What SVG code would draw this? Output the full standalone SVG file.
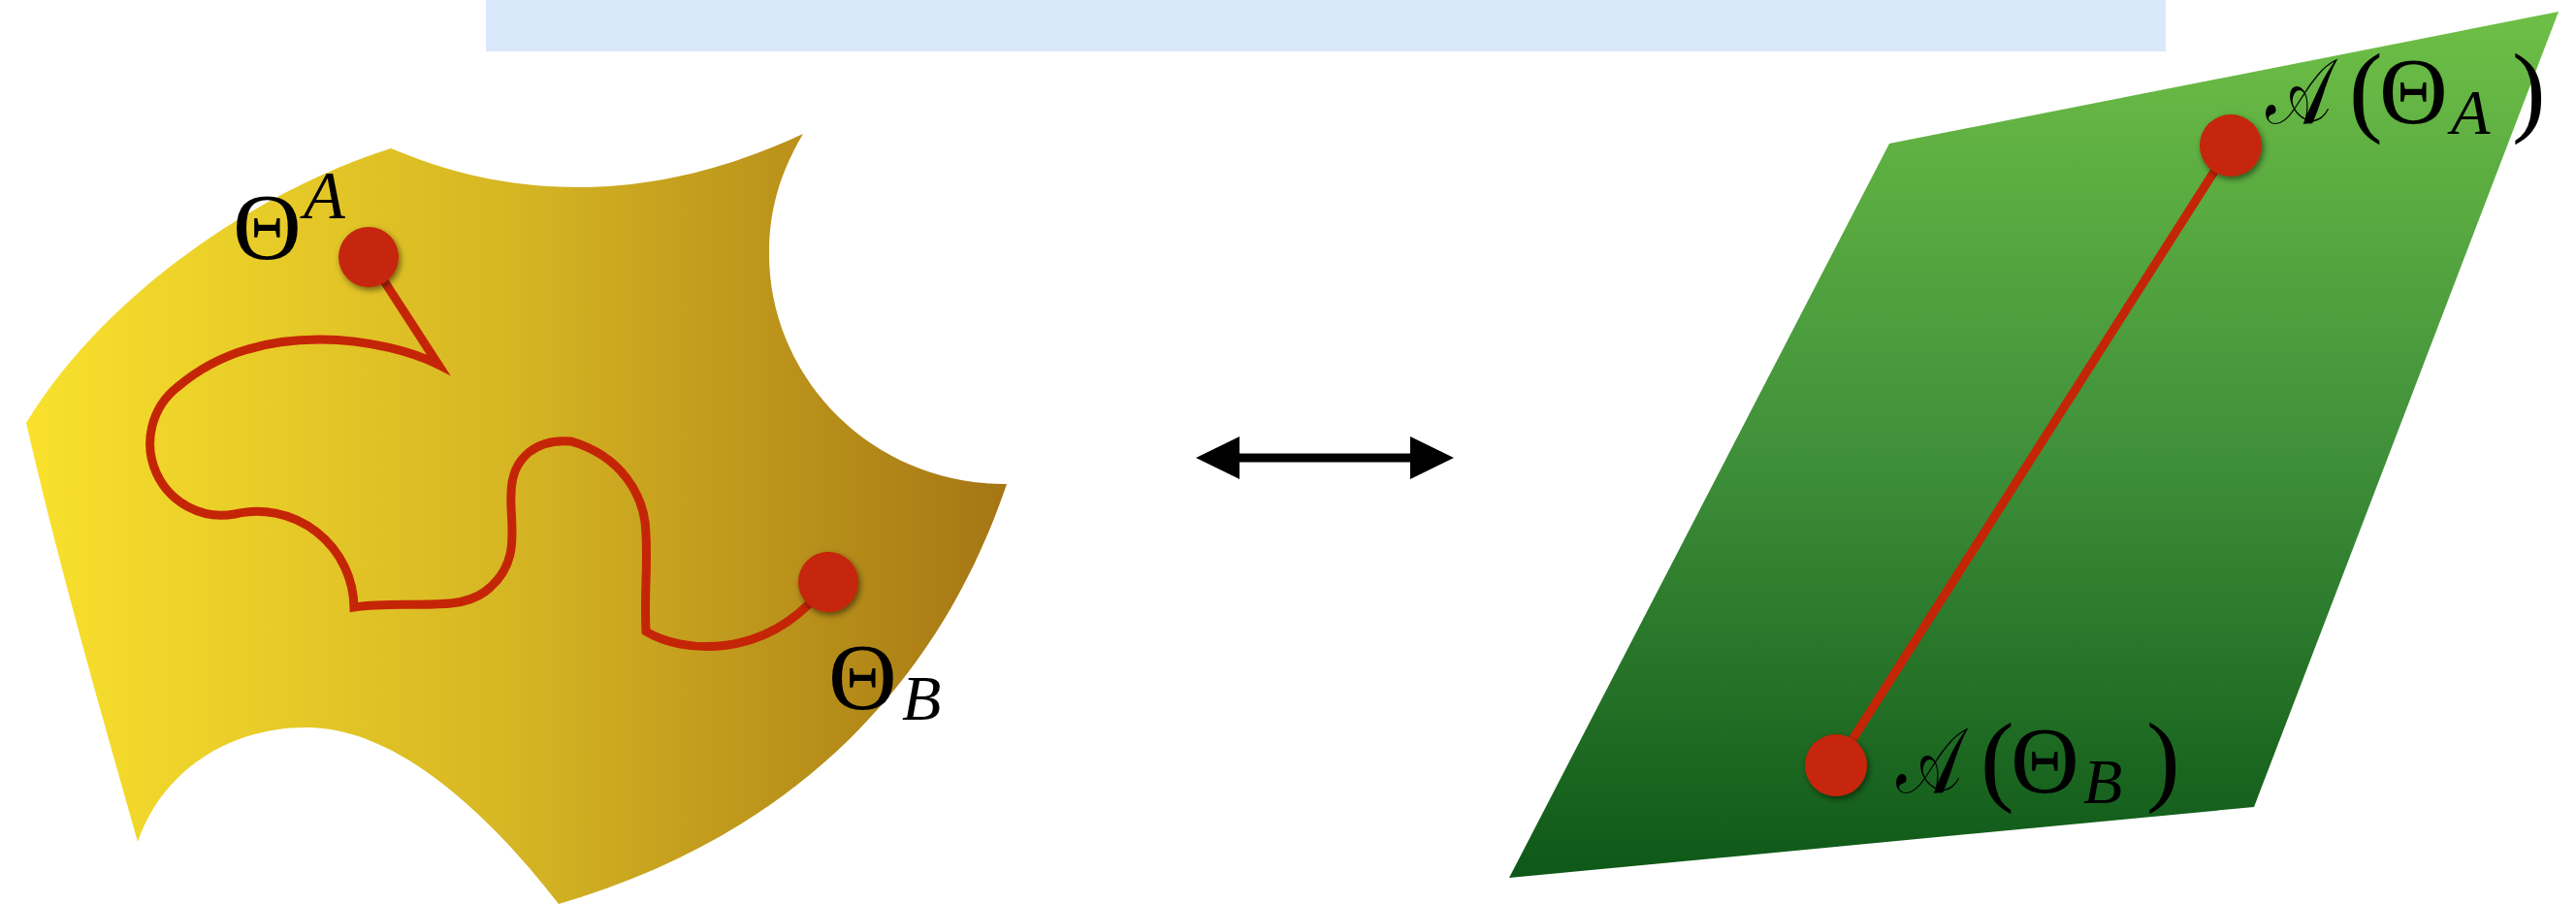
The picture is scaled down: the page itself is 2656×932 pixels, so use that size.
<svg xmlns="http://www.w3.org/2000/svg" width="2656" height="932" viewBox="0 0 2656 932">
<style>
.lbl{font-family:"Liberation Serif","DejaVu Serif",serif;fill:#000}
.it{font-style:italic}
.red{fill:none;stroke:#C52507;stroke-width:9;stroke-linejoin:miter}
.dot{fill:#C52507;filter:url(#sh)}
</style>
<defs>
<linearGradient id="gy" gradientUnits="userSpaceOnUse" x1="27" y1="0" x2="1040" y2="0">
<stop offset="0" stop-color="#F9E12D"/>
<stop offset="0.5" stop-color="#D5B523"/>
<stop offset="1" stop-color="#A57614"/>
</linearGradient>
<linearGradient id="gg" gradientUnits="userSpaceOnUse" x1="0" y1="12" x2="0" y2="905">
<stop offset="0" stop-color="#6EBF46"/>
<stop offset="0.5" stop-color="#40913A"/>
<stop offset="1" stop-color="#0E5818"/>
</linearGradient>
<filter id="sh" x="-50%" y="-50%" width="200%" height="200%">
<feDropShadow dx="2" dy="3" stdDeviation="3" flood-color="#000" flood-opacity="0.5"/>
</filter>
<marker id="ah" viewBox="0 0 45 44" refX="0" refY="22" markerWidth="45" markerHeight="44" markerUnits="userSpaceOnUse" orient="auto-start-reverse">
<path d="M0,0 L45,22 L0,44 Z" fill="#000"/>
</marker>
</defs>
<rect id="banner" x="501" y="0" width="1732" height="53" fill="#DAE8FC"/>
<g id="manifold">
<path d="M403,153 C480,185 540,193 596,193 C680,193 760,170 828,138 C800,185 793,225 793,262 C793,390 900,500 1038,499 C960,730 790,870 576,932 C520,860 420,750 316,750 C230,750 165,800 142,868 C100,720 60,580 27,436 C110,300 270,195 403,153 Z" fill="url(#gy)"/>
</g>
<g id="plane">
<path d="M1948,148 L2638,12 L2324,832 L1556,905 Z" fill="url(#gg)"/>
</g>
<g id="connectors">
<path class="red" d="M380,265 L452,376 C400,350 270,325 183,399 A74,74 0 0 0 242,530 A100,100 0 0 1 365,626 C420,618 470,632 500,610 C540,580 525,540 527,510 C527,470 555,452 589,455 C640,470 665,510 666,550 C668,590 664,610 666,651 C700,672 790,685 854,600"/>
<line class="red" x1="2300" y1="150" x2="1893" y2="789"/>
<line x1="1278" y1="472" x2="1454" y2="472" stroke="#000" stroke-width="9" marker-start="url(#ah)" marker-end="url(#ah)"/>
</g>
<g id="dot-theta-a"><circle class="dot" cx="380" cy="265" r="31"/></g>
<g id="dot-theta-b"><circle class="dot" cx="854" cy="600" r="31"/></g>
<g id="dot-a-theta-a"><circle class="dot" cx="2300" cy="150" r="32"/></g>
<g id="dot-a-theta-b"><circle class="dot" cx="1893" cy="789" r="32"/></g>
<g id="label-theta-a" class="lbl">
<text x="240" y="267" font-size="98">Θ<tspan class="it" x="313" y="225" font-size="70">A</tspan></text>
</g>
<g id="label-theta-b" class="lbl">
<text x="854" y="731" font-size="98">Θ<tspan class="it" x="930" y="742" font-size="66">B</tspan></text>
</g>
<g id="label-a-theta-a" class="lbl">
<text x="2336" y="127" font-size="94" textLength="68" lengthAdjust="spacingAndGlyphs">𝒜</text>
<text x="2422" y="127" font-size="104">(<tspan x="2453" font-size="98">Θ</tspan><tspan class="it" x="2527" y="138" font-size="66">A</tspan><tspan x="2590" y="127">)</tspan></text>
</g>
<g id="label-a-theta-b" class="lbl">
<text x="1955" y="817" font-size="94" textLength="68" lengthAdjust="spacingAndGlyphs">𝒜</text>
<text x="2042" y="817" font-size="104">(<tspan x="2073" font-size="98">Θ</tspan><tspan class="it" x="2148" y="828" font-size="66">B</tspan><tspan x="2213" y="817">)</tspan></text>
</g>
</svg>
